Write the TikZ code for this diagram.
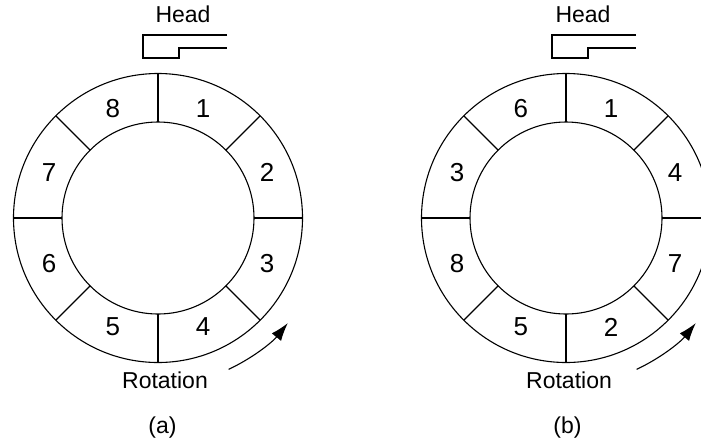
\documentclass[tikz,border=0pt]{standalone}
\usepackage{fontspec}
\setmainfont{Liberation Sans}
\usetikzlibrary{arrows.meta}
\begin{document}
\begin{tikzpicture}[x=0.5pt,y=0.5pt,line width=0.55pt,
        every node/.style={font=\fontsize{11.5}{13}\selectfont,inner sep=0pt},
        num/.style={font=\fontsize{13}{15}\selectfont},
        rot/.style={-{Latex[length=9pt,width=6pt]}}]
            \useasboundingbox (0,0) rectangle (701,-440);
            \clip (0,0) rectangle (701,-440);
            % (a) sectors in order
            \begin{scope}[shift={(158,-218)}]
                \coordinate (ca) at (0,0);
                \draw (ca) circle (144.5);
                \draw (ca) circle (96);
                \foreach \ang in {90,45,...,-225}{
                    \draw (\ang:96) -- (\ang:144.5);
                }
                \foreach \ang/\lab in {67.5/1,22.5/2,-22.5/3,-67.5/4,-112.5/5,-157.5/6,157.5/7,112.5/8}{
                    \node[num] at (\ang:118)(sa\lab){\lab};
                }
                \draw (69,183) -- (-15,183) -- (-15,160) -- (21,160) -- (21,170) -- (69,170);
                \node[anchor=base] at (25,195.5)(heada){Head};
                \draw[rot] (-65:167) arc[start angle=-65,end angle=-39,radius=167];
                \node[anchor=base] at (7,-170.3)(rota){Rotation};
                \node[anchor=base] at (4.5,-215)(capa){(a)};
            \end{scope}
            % (b) interleaved sectors
            \begin{scope}[shift={(566,-218)}]
                \coordinate (cb) at (0,0);
                \draw (cb) circle (144.5);
                \draw (cb) circle (96);
                \foreach \ang in {90,45,...,-225}{
                    \draw (\ang:96) -- (\ang:144.5);
                }
                \foreach \ang/\lab in {67.5/1,22.5/4,-22.5/7,-67.5/2,-112.5/5,-157.5/8,157.5/3,112.5/6}{
                    \node[num] at (\ang:118)(sb\lab){\lab};
                }
                \draw (70,183) -- (-14,183) -- (-14,160) -- (22,160) -- (22,170) -- (70,170);
                \node[anchor=base] at (17,195.5)(headb){Head};
                \draw[rot] (-65:167) arc[start angle=-65,end angle=-39,radius=167];
                \node[anchor=base] at (3,-170.3)(rotb){Rotation};
                \node[anchor=base] at (1.5,-215)(capb){(b)};
            \end{scope}
        \end{tikzpicture}
\end{document}
